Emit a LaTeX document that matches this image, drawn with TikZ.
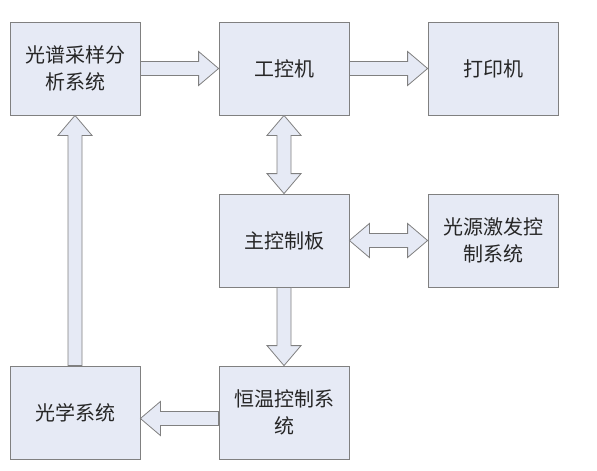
\documentclass[tikz,border=0pt]{standalone}
\usepackage{fontspec}
\newfontfamily\cjk{Noto Sans CJK SC}
\usetikzlibrary{positioning,calc}

\definecolor{boxblue}{RGB}{230,234,245}
\definecolor{linegray}{RGB}{128,128,128}

\tikzset{
  block/.style={draw=linegray, fill=boxblue, line width=0.8pt,
    minimum width=130pt, minimum height=93pt, align=center,
    font=\cjk\fontsize{20}{27}\selectfont, text=black!85},
  % hollow block arrow, one head
  fat/.style={draw=linegray, fill=boxblue, line width=0.8pt,
    to path={let \p1=($(\tikztotarget)!20pt!(\tikztostart)$) in
      ($(\tikztostart)!7pt!90:(\tikztotarget)$) -- ($(\p1)!7pt!90:(\tikztotarget)$)
      -- ($(\p1)!17pt!90:(\tikztotarget)$) -- (\tikztotarget)
      -- ($(\p1)!17pt!-90:(\tikztotarget)$) -- ($(\p1)!7pt!-90:(\tikztotarget)$)
      -- ($(\tikztostart)!7pt!-90:(\tikztotarget)$) -- cycle}},
  % hollow block arrow, two heads
  dfat/.style={draw=linegray, fill=boxblue, line width=0.8pt,
    to path={let \p1=($(\tikztostart)!20pt!(\tikztotarget)$),
      \p2=($(\tikztotarget)!20pt!(\tikztostart)$) in
      (\tikztostart) -- ($(\p1)!17pt!90:(\tikztotarget)$) -- ($(\p1)!7pt!90:(\tikztotarget)$)
      -- ($(\p2)!7pt!90:(\tikztotarget)$) -- ($(\p2)!17pt!90:(\tikztotarget)$)
      -- (\tikztotarget)
      -- ($(\p2)!17pt!-90:(\tikztotarget)$) -- ($(\p2)!7pt!-90:(\tikztotarget)$)
      -- ($(\p1)!7pt!-90:(\tikztotarget)$) -- ($(\p1)!17pt!-90:(\tikztotarget)$) -- cycle}}
}

\begin{document}
\begin{tikzpicture}[node distance=172pt and 209pt,on grid]
  \useasboundingbox (0,0) rectangle (597pt,-471pt);
  \path
  node[block] (spec) at (75pt,-68.5pt) {光谱采样分\\析系统}
  node[block] (ipc) [right=of spec] {工控机}
  node[block] (printer) [right=of ipc] {打印机}
  node[block] (board) [below=of ipc] {主控制板}
  node[block] (light) [right=of board] {光源激发控\\制系统}
  node[block] (thermo) [below=of board] {恒温控制系\\统}
  node[block] (optics) [left=of thermo] {光学系统}
  ;
  \draw[fat] (spec.east) to (ipc.west);
  \draw[fat] (ipc.east) to (printer.west);
  \draw[dfat] (ipc.south) to (board.north);
  \draw[dfat] (board.east) to (light.west);
  \draw[fat] (board.south) to (thermo.north);
  \draw[fat] ([yshift=-6pt]thermo.west) to ([yshift=-6pt]optics.east);
  \draw[fat] (optics.north) to (spec.south);
\end{tikzpicture}
\end{document}
